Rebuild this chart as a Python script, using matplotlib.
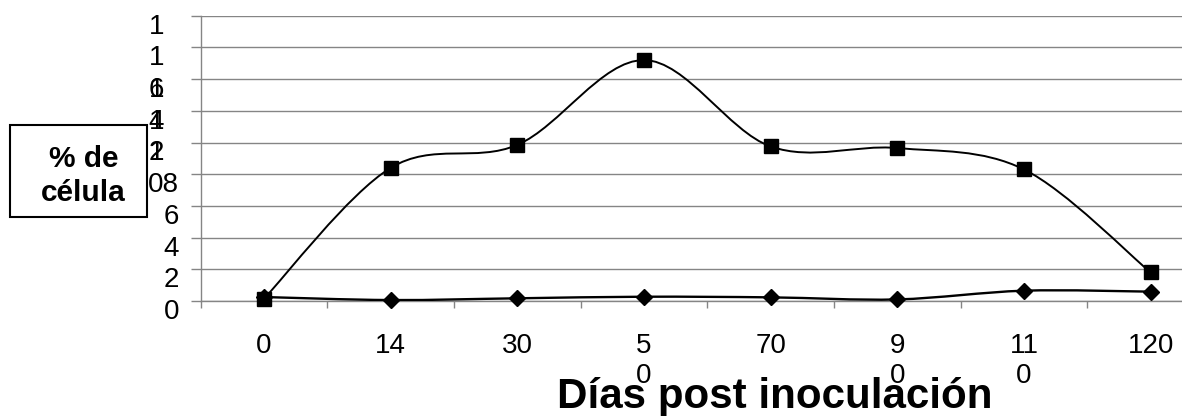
import numpy as np
import matplotlib
matplotlib.use('Agg')
import matplotlib.pyplot as plt
from matplotlib.path import Path
from matplotlib.patches import PathPatch, Rectangle
import matplotlib.transforms as mtransforms

# ---- data ----
days = ['0', '14', '30', '5\n0', '70', '9\n0', '11\n0', '120']
pct_squares = [0.15, 8.4, 9.85, 15.2, 9.75, 9.65, 8.3, 1.8]
pct_diamonds = [0.25, 0.06, 0.17, 0.27, 0.23, 0.10, 0.65, 0.59]
ytick_values = [0, 2, 4, 6, 8, 10, 12, 14, 16, 18]
ytick_text = ['0', '2', '4', '6', '08', '1', '1', '1', '1', '1']
ytick_overstrike = ['', '', '', '', '', '2', '4', '6', '', '']
ylabel_text = '% de\ncélula'
xlabel_text = 'Días post inoculación'

plt.rcParams['font.family'] = ['Liberation Sans', 'DejaVu Sans']

W, H = 1182, 416
fig = plt.figure(figsize=(W / 100, H / 100), dpi=100)


def px_rect(x0, y0, x1, y1):
    return [x0 / W, 1 - y1 / H, (x1 - x0) / W, (y1 - y0) / H]


AX_L, AX_T, AX_R, AX_B = 200.7, 15.7, 1214.0, 301.0
ax = fig.add_axes(px_rect(AX_L, AX_T, AX_R, AX_B))
x = np.arange(len(days))
ax.set_xlim(-0.5, len(days) - 0.5)
ax.set_ylim(0, 18)


def smooth_path(xs, ys):
    pts = np.column_stack([xs, ys]).astype(float)
    n = len(pts)
    verts = [pts[0]]
    codes = [Path.MOVETO]
    for i in range(n - 1):
        p0 = pts[i - 1] if i > 0 else pts[i]
        p1 = pts[i]
        p2 = pts[i + 1]
        p3 = pts[i + 2] if i + 2 < n else pts[i + 1]
        c1 = p1 + (p2 - p0) / 6.0
        c2 = p2 - (p3 - p1) / 6.0
        verts += [c1, c2, p2]
        codes += [Path.CURVE4] * 3
    return Path(verts, codes)


# diamonds series (drawn first so squares sit on top)
ax.add_patch(PathPatch(smooth_path(x, pct_diamonds), fc='none', ec='black', lw=1.7, zorder=3))
ax.plot(x, pct_diamonds, linestyle='none', marker='D', markersize=8.5,
        color='black', zorder=4, clip_on=False)
ax.add_patch(PathPatch(smooth_path(x, pct_squares), fc='none', ec='black', lw=1.4, zorder=5))
ax.plot(x, pct_squares, linestyle='none', marker='s', markersize=10,
        color='black', zorder=6, clip_on=False)

# axes styling
grid_c = '#858585'
for s in ['top', 'right']:
    ax.spines[s].set_visible(False)
for s in ['left', 'bottom']:
    ax.spines[s].set_color(grid_c)
    ax.spines[s].set_linewidth(1.0)

ax.set_yticks(ytick_values)
ax.yaxis.grid(True, color=grid_c, lw=1.0)
ax.tick_params(axis='y', direction='out', length=7.5, color=grid_c, width=1.0, labelleft=False)

ax.set_xticks(x)
ax.set_xticklabels(days, fontsize=20, linespacing=1.2)
ax.set_xticks(np.arange(len(days) + 1) - 0.5, minor=True)
ax.tick_params(axis='x', which='major', length=0, pad=23)
ax.tick_params(axis='x', which='minor', direction='out', length=5, color=grid_c, width=1.0)

# y tick labels (as printed in the scan)
right_x = (179 - AX_L) / (AX_R - AX_L)
left_digit_x = (164 - AX_L) / (AX_R - AX_L)
ytrans = mtransforms.blended_transform_factory(ax.transAxes, ax.transData) + \
    mtransforms.ScaledTranslation(0, -11 / 100, fig.dpi_scale_trans)
for v, t, o in zip(ytick_values, ytick_text, ytick_overstrike):
    xx = left_digit_x if t == '1' else right_x
    ax.text(xx, v, t, transform=ytrans, ha='right', va='center', fontsize=20, clip_on=False)
    if o:
        ax.text(left_digit_x, v, o, transform=ytrans, ha='right', va='center', fontsize=20,
                clip_on=False)

# y label box
fig.patches.append(Rectangle((10 / W, 1 - 217 / H), 137 / W, 92 / H, transform=fig.transFigure,
                             fill=False, ec='black', lw=1.5))
fig.text(83.5 / W, 1 - 176 / H, ylabel_text, ha='center', va='center', fontsize=21.5,
         fontweight='bold', linespacing=1.3)

# x label
fig.text(557 / W, 1 - 408 / H, xlabel_text, ha='left', va='baseline', fontsize=30.3, fontweight='bold')

fig.savefig('out.png', dpi=100)
